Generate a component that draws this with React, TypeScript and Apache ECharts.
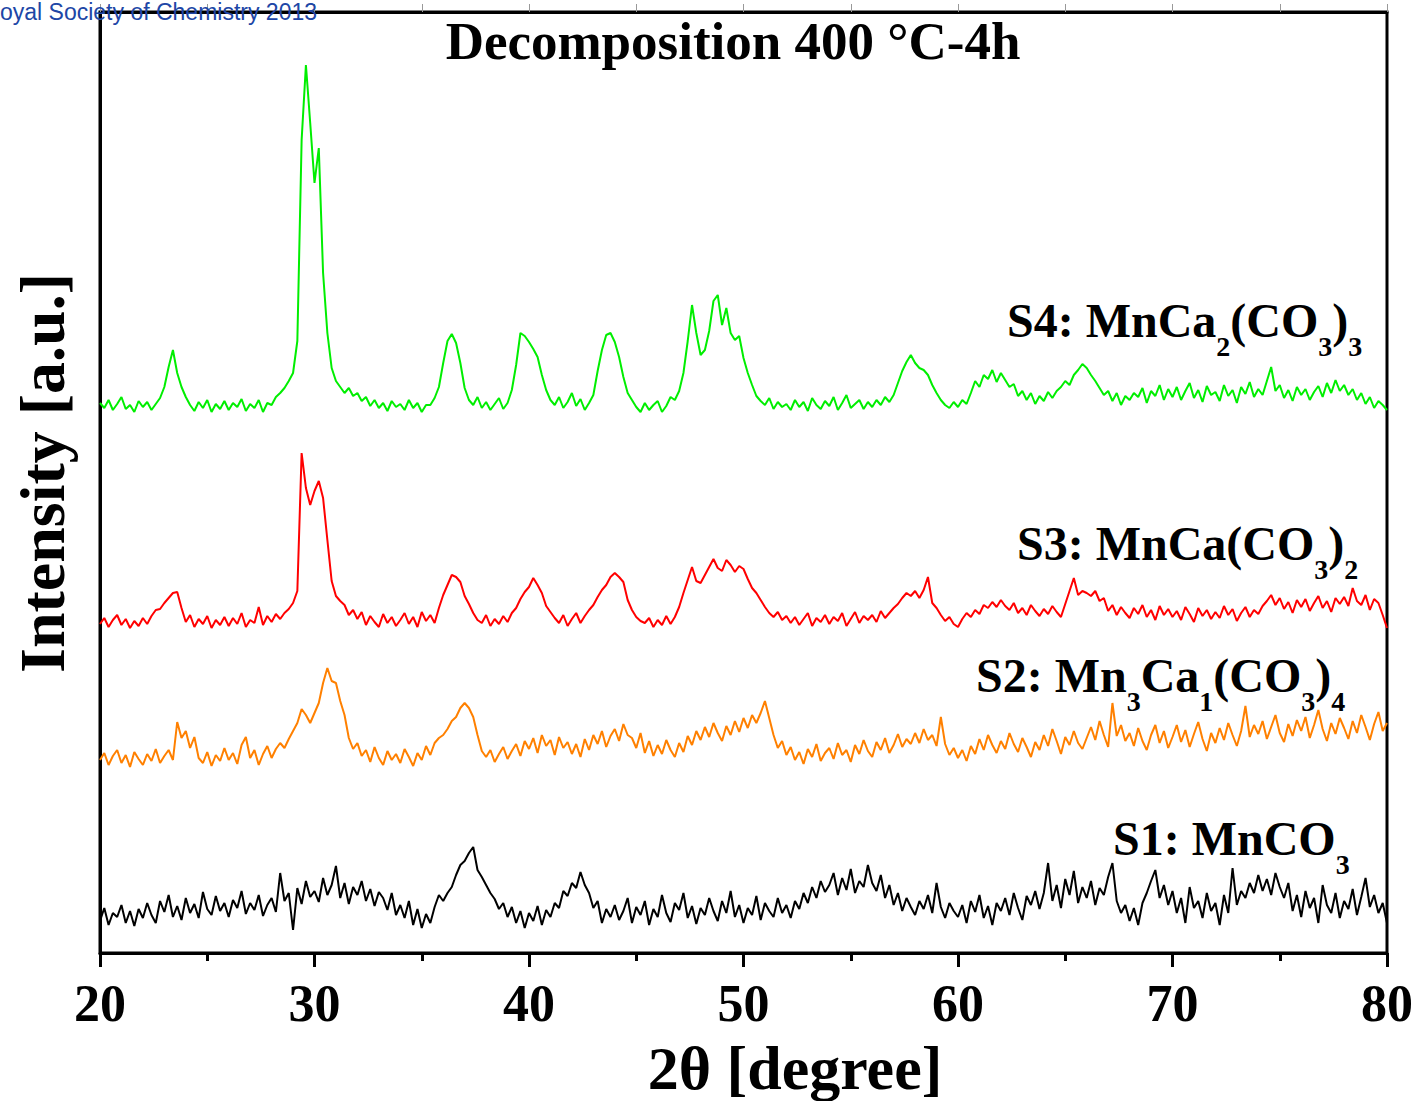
import React, { useEffect, useRef } from "react";
import * as echarts from "echarts";

// 2θ sampling of the traces (degrees)
const THETA_START = 20;
const THETA_STEP = 0.2;

// Intensities (arbitrary units, stacked offsets as in the figure), one value per 0.2° from 20° to 80°
const s4Green = [
  550, 545, 553, 543, 549, 556, 544, 548, 541, 552,
  546, 551, 543, 549, 555, 566, 586, 603, 580, 566,
  556, 548, 542, 551, 545, 553, 541, 549, 544, 552,
  543, 550, 546, 554, 542, 549, 545, 553, 541, 550,
  548, 556, 560, 565, 572, 580, 612, 813, 888, 830,
  770, 805, 680, 620, 585, 572, 566, 560, 565, 557,
  560, 552, 556, 547, 553, 545, 550, 542, 552, 546,
  549, 543, 553, 545, 550, 541, 548, 548, 555, 566,
  590, 612, 619, 610, 590, 565, 553, 548, 556, 545,
  551, 543, 549, 555, 544, 550, 563, 588, 620, 617,
  611, 604, 596, 578, 563, 553, 548, 556, 545, 551,
  560, 547, 554, 543, 550, 558, 582, 603, 618, 620,
  611, 596, 576, 560, 553, 546, 541, 550, 543, 548,
  552, 541, 547, 556, 553, 562, 580, 612, 648, 620,
  598, 603, 622, 652, 658, 628, 645, 620, 613, 617,
  595, 580, 568, 557, 552, 548, 555, 544, 551, 546,
  549, 543, 553, 546, 551, 542, 555, 548, 544, 552,
  547, 556, 543, 550, 558, 545, 549, 553, 544, 551,
  546, 553, 548, 556, 551, 558, 570, 582, 591, 598,
  590, 585, 583, 578, 568, 560, 553, 548, 545, 551,
  546, 553, 549, 560, 572, 566, 578, 574, 583, 571,
  580, 573, 566, 569, 557, 562, 553, 560, 549, 557,
  552, 561, 555, 562, 566, 572, 568, 578, 583, 589,
  585, 578, 572, 565, 558, 562, 552, 560, 548, 557,
  553, 560, 556, 565, 550, 562, 557, 568, 553, 564,
  556, 566, 553, 562, 570, 555, 563, 551, 567, 558,
  561, 552, 568, 557, 563, 550, 566, 559, 571, 556,
  564, 558, 572, 586, 562, 568, 555, 563, 552, 566,
  558, 564, 553, 561, 567, 556, 570, 560, 573, 562,
  568, 558, 564, 553, 560, 549, 556, 545, 552, 548,
  543,
];

const s3Red = [
  329, 335, 326, 333, 338, 328, 334, 325, 332, 327,
  335, 329, 337, 343, 344, 350, 355, 360, 361, 345,
  331, 338, 326, 334, 329, 337, 325, 333, 328, 336,
  327, 335, 329, 340, 326, 333, 330, 346, 328, 337,
  331, 339, 334, 340, 344, 350, 362, 500, 465, 448,
  462, 472, 455, 413, 372, 357, 352, 348, 338, 343,
  334, 341, 328, 337, 331, 326, 339, 330, 336, 327,
  333, 340, 329, 336, 326, 341, 332, 338, 330, 345,
  358, 368, 378, 376, 371, 357, 349, 340, 333, 330,
  338, 327, 334, 329, 337, 331, 340, 345, 354, 361,
  366, 375, 368, 360, 347, 341, 335, 330, 338, 327,
  334, 340, 330, 337, 343, 348, 356, 363, 368, 376,
  380, 376, 371, 353, 343, 336, 332, 330, 335, 326,
  333, 328, 337, 329, 336, 346, 360, 373, 386, 372,
  370, 378, 386, 394, 385, 382, 393, 388, 381, 387,
  384, 374, 365, 360, 353, 346, 340, 336, 341, 333,
  337, 330, 336, 328, 334, 340, 327, 335, 331, 338,
  329, 336, 332, 340, 327, 334, 341, 330, 337, 333,
  338, 331, 342, 335, 340, 345, 349, 355, 360, 357,
  362, 355, 363, 376, 350, 345, 338, 332, 336, 329,
  326, 334, 340, 336, 343, 339, 348, 345, 351, 346,
  353, 347, 343, 350, 340, 345, 338, 348, 342, 337,
  344, 339, 347, 341, 336, 349, 362, 375, 358, 362,
  360, 357, 362, 352, 355, 342, 348, 338, 346, 340,
  335, 345, 339, 348, 336, 343, 333, 347, 338, 344,
  336, 342, 333, 346, 339, 331, 345, 337, 343, 334,
  341, 335, 347, 338, 344, 332, 340, 346, 336, 343,
  339, 347, 352, 358, 348, 355, 344, 351, 340, 353,
  346, 354, 342, 350, 357, 345, 352, 341, 355, 349,
  356, 347, 365, 352, 348, 358, 343, 354, 350, 338,
  325,
];

const s2Orange = [
  193, 200, 188, 197, 203, 190, 198, 186, 201, 194,
  188, 199, 192, 204, 190, 197, 203, 193, 231, 215,
  222, 205, 216, 195, 190, 201, 187, 198, 192, 205,
  193, 200, 189, 208, 216, 195, 203, 188, 199, 207,
  195, 204, 210, 205, 214, 222, 230, 244, 238, 230,
  240, 250, 270, 285, 272, 270, 252, 238, 215, 204,
  210, 197, 203, 191, 206, 195, 188, 202, 193, 199,
  190, 204, 196, 187, 200, 193, 207, 198, 210, 215,
  218, 224, 232, 236, 245, 250, 245, 236, 218, 202,
  196, 203, 191, 199, 206, 194, 202, 209, 197, 212,
  204, 215, 200, 218, 207, 213, 198, 216, 205, 211,
  199, 209, 196, 214, 203, 218, 209, 222, 206, 217,
  224, 212, 229, 218, 215, 205, 220, 200, 212, 197,
  208, 199, 213, 203, 196, 210, 201, 217, 208, 222,
  213, 226, 216, 230, 220, 212, 227, 218, 232, 221,
  235, 225, 238, 230, 240, 252, 235, 218, 205, 212,
  198, 206, 193, 201, 189, 204, 196, 209, 192, 200,
  205, 194, 210, 198, 203, 191, 208, 199, 213, 202,
  196, 211, 203, 215, 200, 208, 219, 206, 214, 209,
  220, 210, 224, 213, 218, 207, 236, 209, 198, 205,
  195, 203, 192, 207, 199, 214, 203, 218, 208, 200,
  212, 204, 220, 209, 201, 215, 206, 196, 211, 203,
  218, 207, 224, 212, 199, 216, 208, 222, 210, 204,
  215, 226, 213, 232, 218, 206, 250, 217, 228, 212,
  220, 207, 225, 212, 203, 218, 228, 210, 222, 205,
  216, 228, 211, 223, 206, 219, 231, 214, 202, 220,
  210, 225, 213, 230, 218, 207, 222, 247, 216, 228,
  219, 232, 214, 226, 238, 220, 211, 229, 217, 233,
  222, 236, 215, 228, 243, 224, 212, 230, 219, 235,
  225, 214, 232, 220, 238, 226, 213, 229, 241, 222,
  230,
];

const s1Black = [
  32, 45, 28, 40, 36, 48, 30, 42, 27, 44,
  35, 50, 38, 30, 52, 41, 58, 36, 47, 33,
  55, 40, 49, 35, 61, 44, 38, 57, 42, 50,
  36, 53, 45, 62, 39, 50, 43, 58, 37, 48,
  55, 41, 80, 52, 60, 23, 65, 49, 72, 56,
  62, 51, 75, 58, 68, 87, 55, 70, 49, 66,
  58, 72, 52, 64, 47, 61, 55, 43, 60, 38,
  48, 35, 52, 28, 44, 25, 39, 30, 46, 58,
  52, 60, 66, 78, 88, 92, 100, 106, 83, 76,
  68, 60, 54, 44, 50, 36, 46, 30, 42, 25,
  40, 32, 47, 28, 43, 36, 50, 45, 62, 57,
  70, 65, 81, 68, 60, 45, 52, 30, 44, 36,
  48, 33, 42, 55, 30, 46, 38, 52, 28, 44,
  36, 58, 40, 31, 50, 43, 60, 35, 47, 29,
  45, 38, 55, 42, 32, 52, 40, 62, 36, 48,
  30, 45, 38, 57, 33, 50, 42, 36, 55, 40,
  48, 35, 52, 44, 60, 50, 66, 55, 72, 61,
  68, 80, 58, 75, 63, 84, 60, 72, 66, 88,
  70, 62, 78, 55, 68, 48, 60, 42, 55, 46,
  38, 52, 44, 58, 40, 70, 46, 35, 50, 42,
  36, 48, 30, 52, 41, 58, 35, 47, 28, 50,
  42, 55, 38, 60, 45, 33, 57, 48, 62, 44,
  60, 90, 52, 68, 45, 74, 58, 82, 50, 66,
  55, 72, 48, 65, 58, 76, 90, 52, 40, 48,
  32, 45, 28, 50, 60, 72, 83, 55, 68, 48,
  62, 40, 55, 30, 66, 45, 52, 35, 60, 42,
  50, 28, 58, 40, 85, 48, 62, 55, 70, 60,
  78, 62, 74, 58, 80, 66, 55, 70, 42, 58,
  36, 62, 45, 55, 30, 68, 48, 40, 60, 35,
  52, 44, 64, 38, 56, 75, 46, 58, 40, 50,
  30,
];

const seriesNames = ["S1: MnCO3", "S2: Mn3Ca1(CO3)4", "S3: MnCa(CO3)2", "S4: MnCa2(CO3)3"];
const seriesColors = ["#000000", "#ff8000", "#ff0000", "#00ee00"];
const seriesValues = [s1Black, s2Orange, s3Red, s4Green];

const titleText = "Decomposition 400 °C-4h";
const xAxisTitle = "2θ [degree]";
const yAxisTitle = "Intensity [a.u.]";
const watermark = "oyal Society of Chemistry 2013";
const X_MIN = 20;
const X_MAX = 80;
const X_MAJOR = 10;
const Y_MAX = 941;

const SERIF = "Liberation Serif, Times New Roman, serif";

const richStyles = {
  m: { fontSize: 48, fontWeight: "bold", fontFamily: SERIF, fill: "#000", lineHeight: 50, verticalAlign: "top" },
  s: { fontSize: 28, fontWeight: "bold", fontFamily: SERIF, fill: "#000", verticalAlign: "top", padding: [36, 0, 0, 0] },
};

const seriesLabels = [
  { text: "{m|S4: MnCa}{s|2}{m|(CO}{s|3}{m|)}{s|3}", x: 1007, y: 296 },
  { text: "{m|S3: MnCa(CO}{s|3}{m|)}{s|2}", x: 1017, y: 519 },
  { text: "{m|S2: Mn}{s|3}{m|Ca}{s|1}{m|(CO}{s|3}{m|)}{s|4}", x: 976, y: 651 },
  { text: "{m|S1: MnCO}{s|3}", x: 1113, y: 814 },
];

export default function App() {
  const ref = useRef<HTMLDivElement>(null);
  useEffect(() => {
    if (!ref.current) return;
    const chart = echarts.init(ref.current, null, { renderer: "svg" });
    const twoTheta = s1Black.map((_, i) => +(THETA_START + i * THETA_STEP).toFixed(1));
    const series = seriesValues.map((vals, k) => ({
      name: seriesNames[k],
      type: "line",
      data: vals.map((v, i) => [twoTheta[i], v]),
      showSymbol: false,
      symbol: "none",
      lineStyle: { color: seriesColors[k], width: 2 },
      itemStyle: { color: seriesColors[k] },
      z: 3,
    }));
    chart.setOption({
      animation: false,
      backgroundColor: "#ffffff",
      textStyle: { fontFamily: SERIF },
      grid: {
        left: 100,
        right: 31,
        top: 12,
        bottom: 148,
        show: true,
        borderColor: "#000",
        borderWidth: 3,
        backgroundColor: "transparent",
      },
      xAxis: [
        {
          type: "value",
          min: X_MIN,
          max: X_MAX,
          interval: X_MAJOR,
          position: "bottom",
          axisLine: { show: true, lineStyle: { color: "#000", width: 3 } },
          axisTick: { show: true, inside: false, length: 14, lineStyle: { color: "#000", width: 3 } },
          minorTick: { show: true, splitNumber: 2, length: 8, lineStyle: { color: "#000", width: 3 } },
          splitLine: { show: false },
          axisLabel: {
            show: true,
            margin: 24,
            fontSize: 52,
            fontWeight: "bold",
            fontFamily: SERIF,
            color: "#000",
          },
        },
        {
          type: "value",
          min: X_MIN,
          max: X_MAX,
          interval: X_MAJOR / 2,
          position: "top",
          axisLine: { show: true, lineStyle: { color: "#000", width: 3 } },
          axisTick: { show: true, inside: false, length: 8, lineStyle: { color: "#999", width: 1 } },
          splitLine: { show: false },
          axisLabel: { show: false },
        },
      ],
      yAxis: {
        type: "value",
        min: 0,
        max: Y_MAX,
        axisLine: { show: true, lineStyle: { color: "#000", width: 3 } },
        axisTick: { show: false },
        axisLabel: { show: false },
        splitLine: { show: false },
      },
      series,
      graphic: [
        {
          type: "text",
          x: 0,
          y: 12,
          z: 100,
          style: {
            text: watermark,
            fontSize: 23,
            fontFamily: "Liberation Sans, Arial, sans-serif",
            fill: "#2046a6",
            align: "left",
            verticalAlign: "middle",
          },
        },
        {
          type: "text",
          x: 733,
          y: 41,
          z: 100,
          style: {
            text: titleText,
            fontSize: 53,
            fontWeight: "bold",
            fontFamily: SERIF,
            fill: "#000",
            align: "center",
            verticalAlign: "middle",
          },
        },
        {
          type: "text",
          x: 795,
          y: 1068,
          z: 100,
          style: {
            text: xAxisTitle,
            fontSize: 62,
            fontWeight: "bold",
            fontFamily: SERIF,
            fill: "#000",
            align: "center",
            verticalAlign: "middle",
          },
        },
        {
          type: "text",
          x: 42,
          y: 473,
          rotation: Math.PI / 2,
          z: 100,
          style: {
            text: yAxisTitle,
            fontSize: 64,
            fontWeight: "bold",
            fontFamily: SERIF,
            fill: "#000",
            align: "center",
            verticalAlign: "middle",
          },
        },
        ...seriesLabels.map((l) => ({
          type: "text",
          x: l.x,
          y: l.y,
          z: 100,
          style: {
            text: l.text,
            rich: richStyles,
            align: "left",
            verticalAlign: "top",
          },
        })),
      ],
    });
    return () => chart.dispose();
  }, []);
  return (
    <div
      ref={ref}
      style={{ position: "absolute", left: 0, top: 0, width: 1418, height: 1101 }}
    />
  );
}
